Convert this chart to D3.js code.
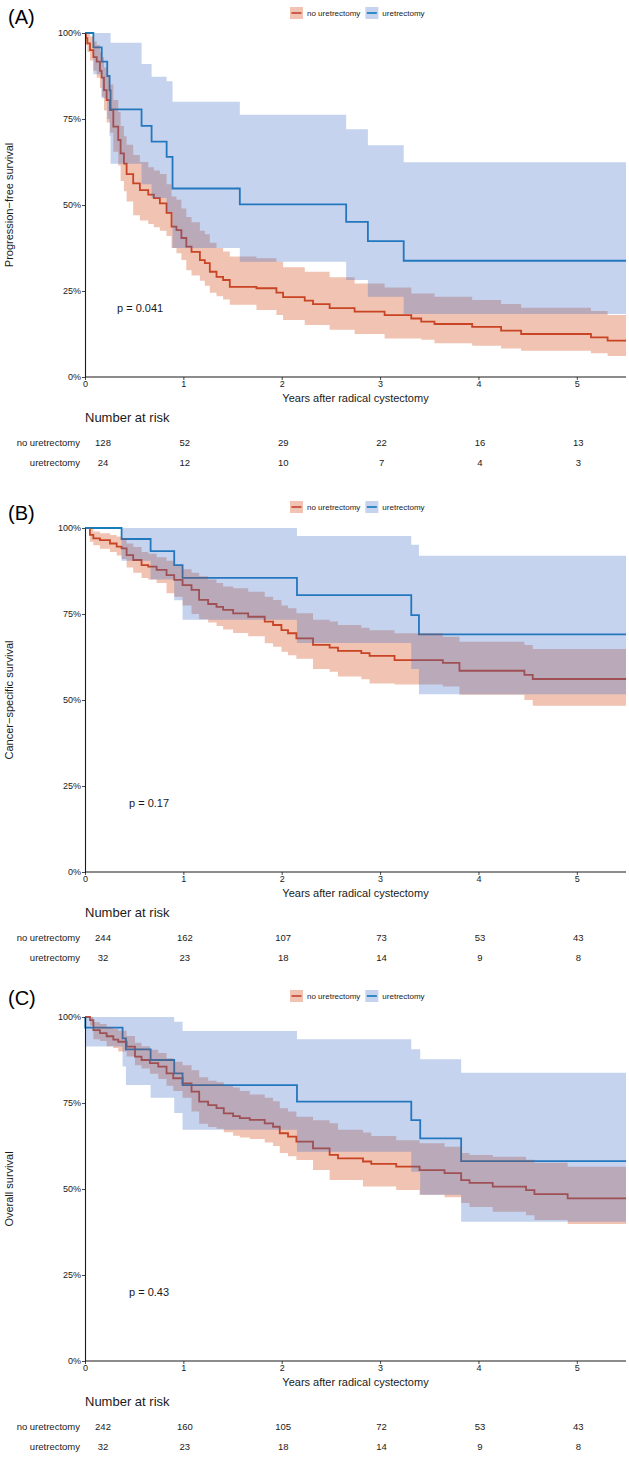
<!DOCTYPE html>
<html>
<head>
<meta charset="utf-8">
<script src="https://cdn.jsdelivr.net/npm/d3@7"></script>
<style>
  body { margin: 0; background: #fff; }
  svg { display: block; font-family: "Liberation Sans", Arial, Helvetica, sans-serif; }
</style>
</head>
<body>
<div id="chart"></div>
<script>
// Kaplan-Meier curves, values
const groups = ['no uretrectomy', 'uretrectomy'];
const riskTimes = [0, 1, 2, 3, 4, 5];
const xTicks = [0, 1, 2, 3, 4, 5];
const yTicks = [0, 0.25, 0.5, 0.75, 1];
const panelTags = ['(A)', '(B)', '(C)'];
const yTitles = ['Progression\u2212free survival', 'Cancer\u2212specific survival', 'Overall survival'];
const pValues = ['p = 0.041', 'p = 0.17', 'p = 0.43'];

// (A) progression-free
const aNoTime = [0, 0.01, 0.024, 0.051, 0.085, 0.119, 0.152, 0.169, 0.193, 0.22, 0.254, 0.288, 0.338, 0.362, 0.396, 0.423, 0.49, 0.558, 0.643, 0.7, 0.761, 0.829, 0.88, 0.93, 0.98, 1.03, 1.083, 1.168, 1.218, 1.269, 1.337, 1.404, 1.472, 1.743, 1.946, 2.014, 2.234, 2.318, 2.487, 2.741, 3.046, 3.317, 3.418, 3.553, 3.936, 4.23, 4.434, 5.144, 5.313];
const aNoSurv = [1, 0.985, 0.97, 0.95, 0.93, 0.917, 0.89, 0.87, 0.834, 0.805, 0.776, 0.728, 0.689, 0.65, 0.62, 0.59, 0.563, 0.543, 0.53, 0.52, 0.505, 0.477, 0.437, 0.427, 0.404, 0.379, 0.364, 0.34, 0.331, 0.306, 0.291, 0.282, 0.262, 0.258, 0.245, 0.232, 0.222, 0.212, 0.2, 0.19, 0.18, 0.17, 0.161, 0.154, 0.146, 0.135, 0.125, 0.115, 0.106];
const aNoUpper = [1, 1, 1, 0.99, 0.975, 0.965, 0.945, 0.93, 0.9, 0.875, 0.85, 0.805, 0.77, 0.73, 0.7, 0.675, 0.645, 0.625, 0.61, 0.6, 0.59, 0.56, 0.525, 0.515, 0.49, 0.465, 0.45, 0.425, 0.415, 0.39, 0.375, 0.365, 0.35, 0.345, 0.335, 0.319, 0.306, 0.306, 0.29, 0.272, 0.26, 0.243, 0.243, 0.233, 0.224, 0.212, 0.201, 0.192, 0.18];
const aNoLower = [1, 0.965, 0.945, 0.92, 0.89, 0.87, 0.84, 0.815, 0.775, 0.74, 0.71, 0.655, 0.615, 0.57, 0.54, 0.51, 0.47, 0.455, 0.445, 0.435, 0.425, 0.41, 0.375, 0.36, 0.34, 0.31, 0.295, 0.28, 0.265, 0.245, 0.235, 0.225, 0.21, 0.195, 0.18, 0.166, 0.151, 0.151, 0.137, 0.125, 0.112, 0.112, 0.108, 0.098, 0.091, 0.083, 0.076, 0.069, 0.061];
const aUreTime = [0, 0.085, 0.17, 0.226, 0.25, 0.26, 0.575, 0.677, 0.83, 0.89, 1.574, 2.655, 2.876, 3.24];
const aUreSurv = [1, 0.958, 0.917, 0.875, 0.833, 0.778, 0.73, 0.684, 0.64, 0.548, 0.502, 0.451, 0.395, 0.338];
const aUreUpper = [1, 1, 1, 1, 1, 0.972, 0.91, 0.873, 0.86, 0.8, 0.762, 0.72, 0.674, 0.624];
const aUreLower = [1, 0.88, 0.81, 0.75, 0.7, 0.62, 0.56, 0.52, 0.48, 0.375, 0.335, 0.282, 0.233, 0.183];
const aRiskNo = [128, 52, 29, 22, 16, 13];
const aRiskUre = [24, 12, 10, 7, 4, 3];

// (B) cancer-specific
const bNoTime = [0, 0.05, 0.085, 0.152, 0.254, 0.322, 0.372, 0.423, 0.49, 0.575, 0.643, 0.728, 0.829, 0.907, 0.992, 1.083, 1.16, 1.252, 1.337, 1.404, 1.506, 1.659, 1.827, 1.912, 1.997, 2.064, 2.149, 2.318, 2.487, 2.572, 2.809, 2.893, 3.147, 3.638, 3.807, 4.467, 4.552];
const bNoSurv = [1, 0.98, 0.97, 0.965, 0.955, 0.946, 0.941, 0.921, 0.907, 0.892, 0.888, 0.878, 0.863, 0.849, 0.834, 0.82, 0.791, 0.779, 0.771, 0.762, 0.752, 0.742, 0.728, 0.718, 0.703, 0.694, 0.679, 0.66, 0.652, 0.643, 0.636, 0.628, 0.616, 0.608, 0.585, 0.573, 0.561];
const bNoUpper = [1, 1, 0.99, 0.985, 0.98, 0.975, 0.97, 0.955, 0.945, 0.93, 0.925, 0.915, 0.905, 0.89, 0.88, 0.87, 0.86, 0.85, 0.84, 0.83, 0.825, 0.815, 0.8, 0.791, 0.775, 0.767, 0.752, 0.733, 0.728, 0.718, 0.71, 0.703, 0.694, 0.684, 0.669, 0.66, 0.648];
const bNoLower = [1, 0.96, 0.95, 0.94, 0.93, 0.92, 0.91, 0.885, 0.87, 0.855, 0.85, 0.84, 0.81, 0.8, 0.775, 0.75, 0.735, 0.725, 0.715, 0.705, 0.695, 0.685, 0.665, 0.655, 0.64, 0.63, 0.62, 0.59, 0.582, 0.568, 0.56, 0.548, 0.545, 0.539, 0.515, 0.5, 0.483];
const bUreTime = [0, 0.372, 0.667, 0.907, 0.992, 2.155, 3.317, 3.395];
const bUreSurv = [1, 0.968, 0.933, 0.892, 0.855, 0.805, 0.747, 0.691];
const bUreUpper = [1, 1, 1, 1, 1, 0.977, 0.951, 0.919];
const bUreLower = [1, 0.905, 0.85, 0.79, 0.733, 0.666, 0.59, 0.517];
const bRiskNo = [244, 162, 107, 73, 53, 43];
const bRiskUre = [32, 23, 18, 14, 9, 8];

// (C) overall
const cNoTime = [0, 0.051, 0.085, 0.152, 0.22, 0.288, 0.338, 0.423, 0.508, 0.575, 0.66, 0.745, 0.829, 0.897, 0.992, 1.083, 1.161, 1.252, 1.337, 1.411, 1.506, 1.574, 1.675, 1.827, 1.912, 1.98, 2.064, 2.149, 2.318, 2.487, 2.572, 2.826, 2.91, 3.164, 3.401, 3.655, 3.824, 3.909, 4.145, 4.484, 4.569, 4.907];
const cNoSurv = [1, 0.991, 0.962, 0.953, 0.944, 0.934, 0.928, 0.914, 0.885, 0.875, 0.866, 0.856, 0.836, 0.822, 0.807, 0.783, 0.754, 0.744, 0.735, 0.72, 0.712, 0.706, 0.701, 0.691, 0.681, 0.662, 0.652, 0.638, 0.618, 0.599, 0.589, 0.58, 0.573, 0.565, 0.555, 0.546, 0.526, 0.518, 0.507, 0.497, 0.485, 0.473];
const cNoUpper = [1, 1, 0.985, 0.98, 0.97, 0.965, 0.96, 0.945, 0.925, 0.915, 0.905, 0.895, 0.88, 0.87, 0.86, 0.845, 0.825, 0.815, 0.81, 0.8, 0.795, 0.785, 0.775, 0.765, 0.755, 0.735, 0.725, 0.71, 0.7, 0.691, 0.672, 0.664, 0.654, 0.642, 0.633, 0.623, 0.605, 0.599, 0.594, 0.585, 0.576, 0.565];
const cNoLower = [1, 0.975, 0.935, 0.93, 0.915, 0.91, 0.9, 0.885, 0.86, 0.85, 0.835, 0.82, 0.8, 0.785, 0.765, 0.725, 0.69, 0.68, 0.675, 0.665, 0.655, 0.65, 0.645, 0.635, 0.625, 0.605, 0.595, 0.584, 0.555, 0.526, 0.526, 0.507, 0.507, 0.497, 0.483, 0.476, 0.459, 0.448, 0.434, 0.424, 0.41, 0.398];
const cUreTime = [0, 0.003, 0.382, 0.416, 0.667, 0.907, 0.992, 2.155, 3.317, 3.408, 3.824];
const cUreSurv = [1, 0.969, 0.938, 0.906, 0.875, 0.836, 0.802, 0.754, 0.7, 0.647, 0.581];
const cUreUpper = [1, 1, 1, 1, 1, 0.986, 0.959, 0.935, 0.906, 0.877, 0.838];
const cUreLower = [1, 0.914, 0.856, 0.802, 0.765, 0.721, 0.672, 0.608, 0.55, 0.483, 0.405];
const cRiskNo = [242, 160, 105, 72, 53, 43];
const cRiskUre = [32, 23, 18, 14, 9, 8];

(() => {
  const W = 629, H = 1465;
  const X_MAX = 5.5;
  const lineCol = ['#c64a35', '#187cbb'];
  const fillCol = ['#cd3700', '#3e6dc6'];
  const ink = '#1a1a1a';

  const zip = (t, s, lo, hi) => t.map((v, i) => ({ t: v, s: s[i], lo: lo[i], hi: hi[i] }));
  const extend = arr => arr.concat([Object.assign({}, arr[arr.length - 1], { t: X_MAX })]);

  // layout of each panel: pixel row of 0% and 100%, header rows
  const panels = [
    { y0: 377, y1: 33, tagY: 24, legY: 13, pX: 117,
      series: [zip(aNoTime, aNoSurv, aNoLower, aNoUpper), zip(aUreTime, aUreSurv, aUreLower, aUreUpper)],
      risk: [aRiskNo, aRiskUre] },
    { y0: 872, y1: 528, tagY: 520, legY: 507, pX: 129,
      series: [zip(bNoTime, bNoSurv, bNoLower, bNoUpper), zip(bUreTime, bUreSurv, bUreLower, bUreUpper)],
      risk: [bRiskNo, bRiskUre] },
    { y0: 1361, y1: 1017, tagY: 1005, legY: 996, pX: 129,
      series: [zip(cNoTime, cNoSurv, cNoLower, cNoUpper), zip(cUreTime, cUreSurv, cUreLower, cUreUpper)],
      risk: [cRiskNo, cRiskUre] }
  ];

  const svg = d3.select('#chart').append('svg').attr('width', W).attr('height', H);
  const x = d3.scaleLinear().domain([0, X_MAX]).range([85, 626]);

  panels.forEach((p, pi) => {
    const y = d3.scaleLinear().domain([0, 1]).range([p.y0, p.y1]);
    const g = svg.append('g');

    const line = d3.line().curve(d3.curveStepAfter).x(d => x(d.t)).y(d => y(d.s));
    const area = d3.area().curve(d3.curveStepAfter).x(d => x(d.t)).y0(d => y(d.lo)).y1(d => y(d.hi));

    // step lines first, ribbons drawn over them (as survminer does)
    p.series.forEach((s, i) => {
      g.append('path').datum(extend(s)).attr('d', line)
        .attr('fill', 'none').attr('stroke', lineCol[i]).attr('stroke-width', 1.8);
    });
    p.series.forEach((s, i) => {
      g.append('path').datum(extend(s)).attr('d', area)
        .attr('fill', fillCol[i]).attr('fill-opacity', 0.3).attr('stroke', 'none');
    });

    // axes
    const xAxis = g.append('g').attr('transform', `translate(0,${p.y0})`)
      .call(d3.axisBottom(x).tickValues(xTicks).tickSize(3).tickPadding(1).tickSizeOuter(0)
        .tickFormat(d3.format('d')));
    const yAxis = g.append('g').attr('transform', `translate(${x(0)},0)`)
      .call(d3.axisLeft(y).tickValues(yTicks).tickSize(3).tickPadding(1).tickSizeOuter(0)
        .tickFormat(d => Math.round(d * 100) + '%'));
    [xAxis, yAxis].forEach(a => {
      a.select('.domain').attr('stroke', ink).attr('stroke-width', 1.1);
      a.selectAll('.tick line').attr('stroke', ink).attr('stroke-width', 0.8);
      a.selectAll('.tick text').attr('fill', ink).attr('font-size', 9)
        .attr('font-family', '"Liberation Sans", Arial, sans-serif');
    });
    // x-axis line runs across the whole range
    xAxis.select('.domain').attr('d', `M${x(0)},0H${x(X_MAX)}`);

    g.append('text').attr('x', (x(0) + x(X_MAX)) / 2).attr('y', p.y0 + 25)
      .attr('text-anchor', 'middle').attr('font-size', 11).attr('fill', ink)
      .text('Years after radical cystectomy');

    g.append('text')
      .attr('transform', `translate(13,${(p.y0 + p.y1) / 2}) rotate(-90)`)
      .attr('text-anchor', 'middle').attr('font-size', 11).attr('fill', ink)
      .text(yTitles[pi]);

    g.append('text').attr('x', 8).attr('y', p.tagY)
      .attr('font-size', 20).attr('fill', '#000').text(panelTags[pi]);

    g.append('text').attr('x', p.pX).attr('y', y(0.2) + 4)
      .attr('font-size', 11).attr('fill', ink).text(pValues[pi]);

    // legend
    let lx = 290;
    groups.forEach((name, i) => {
      const lg = g.append('g').attr('transform', `translate(${lx},${p.legY})`);
      lg.append('rect').attr('x', 0).attr('y', -6).attr('width', 13).attr('height', 12)
        .attr('fill', fillCol[i]).attr('fill-opacity', 0.3);
      lg.append('line').attr('x1', 1.5).attr('x2', 11.5).attr('y1', 0).attr('y2', 0)
        .attr('stroke', lineCol[i]).attr('stroke-width', 1.7);
      const t = lg.append('text').attr('x', 17).attr('y', 3).attr('font-size', 8)
        .attr('fill', ink).text(name);
      lx += 17 + t.node().getComputedTextLength() + 5;
    });

    // number at risk table (first column sits a little right of the axis)
    const riskX = k => x(riskTimes[k]) + (k === 0 ? 18 : 1.5);
    g.append('text').attr('x', x(0)).attr('y', p.y0 + 45)
      .attr('font-size', 13).attr('fill', ink).text('Number at risk');
    groups.forEach((name, i) => {
      const ry = p.y0 + 69 + i * 20;
      g.append('text').attr('x', 80).attr('y', ry).attr('text-anchor', 'end')
        .attr('font-size', 9.5).attr('fill', ink).text(name);
      g.selectAll(null).data(p.risk[i]).enter().append('text')
        .attr('x', (d, k) => riskX(k)).attr('y', ry)
        .attr('text-anchor', 'middle').attr('font-size', 9.5).attr('fill', ink)
        .text(d => d);
    });
  });
})();
</script>
</body>
</html>
